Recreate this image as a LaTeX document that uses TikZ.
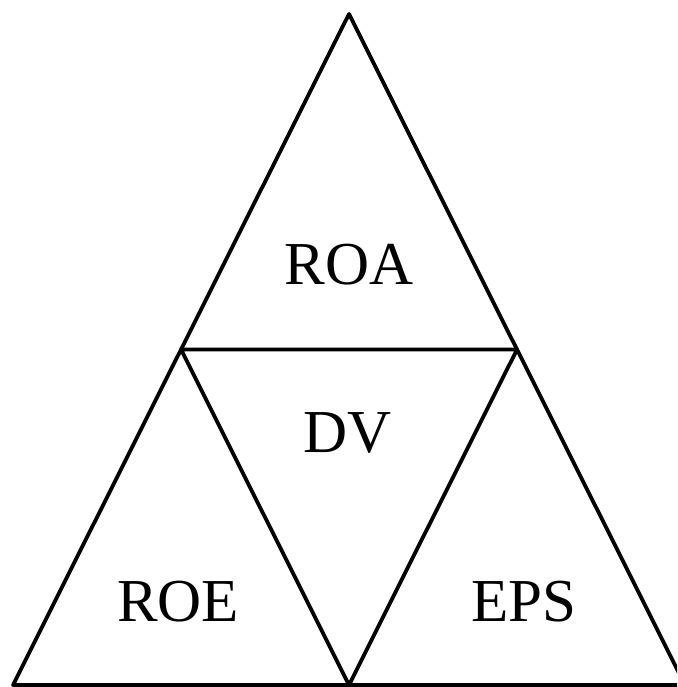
\documentclass[tikz,border=0pt]{standalone}
\usepackage{fontspec}
\setmainfont{Liberation Serif}
\begin{document}
\begin{tikzpicture}[x=1pt,y=-1pt,
  edge/.style={line width=3.8pt,line join=round},
  lbl/.style={font=\fontsize{61}{63}\selectfont,inner sep=0pt,anchor=center}]
\useasboundingbox (0,0) rectangle (677,687);
\clip (0,0) rectangle (677,687);
\coordinate (top) at (349,14);
\coordinate (bl) at (13,685);
\coordinate (br) at (685,685);
\coordinate (ml) at (181,349.5);
\coordinate (mr) at (517,349.5);
\coordinate (bm) at (349,685);
\draw[edge] (top) -- (bl) -- (br) -- cycle;
\draw[edge] (ml) -- (mr) -- (bm) -- cycle;
\node[lbl] (roa) at (349,265) {ROA};
\node[lbl] (dv) at (348,433) {DV};
\node[lbl] (roe) at (178,602) {ROE};
\node[lbl] (eps) at (524,602) {EPS};
\end{tikzpicture}
\end{document}
